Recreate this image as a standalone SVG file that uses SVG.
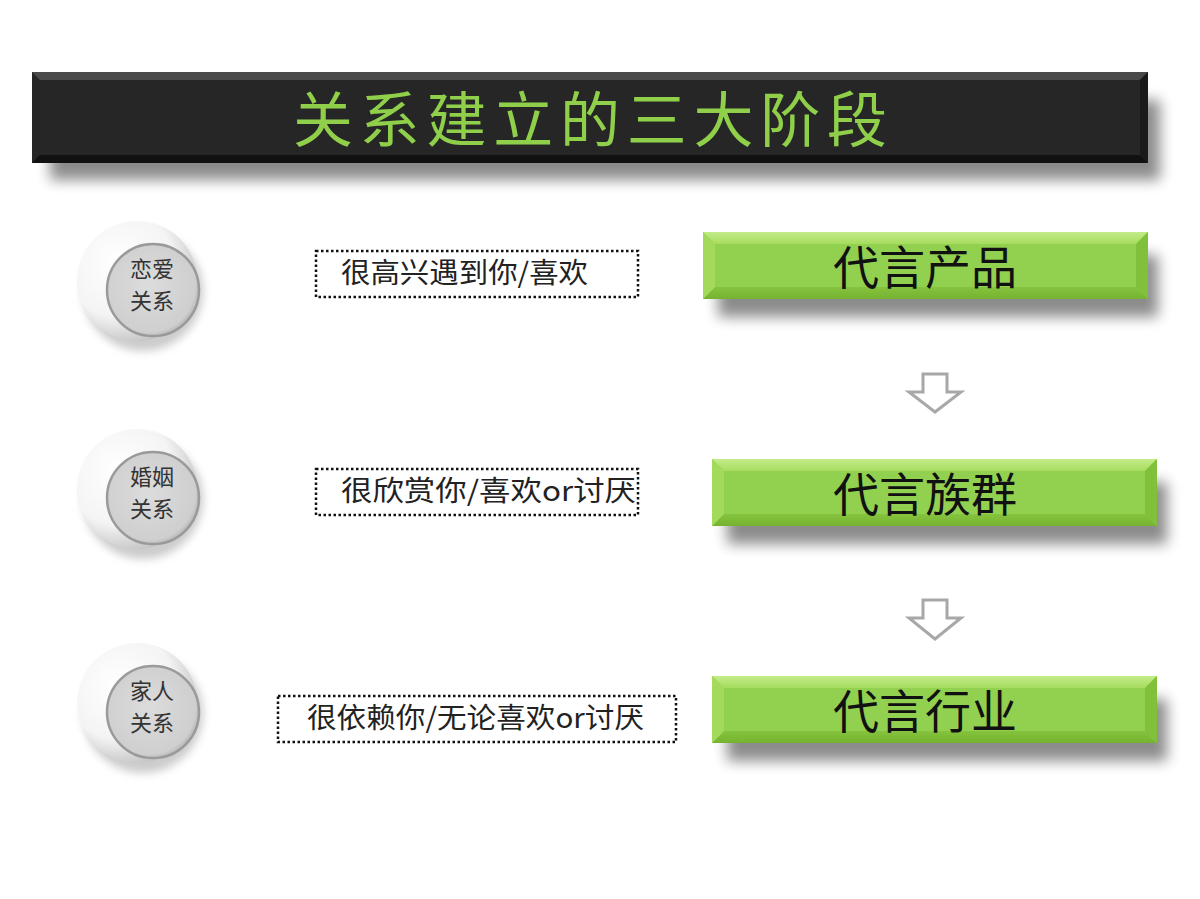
<svg xmlns="http://www.w3.org/2000/svg" width="1200" height="899" viewBox="0 0 1200 899">
<defs>
<style>
.cjk{font-family:"Noto Sans CJK SC","Liberation Sans",sans-serif;}
.title{font-size:60px;fill:#8fcf4a;}
.gtxt{font-size:46px;fill:#111;text-anchor:middle;}
.dtxt{font-size:28px;fill:#222;}
.ctxt{font-size:22px;fill:#333;text-anchor:middle;}
.dot{fill:#fff;stroke:#111;stroke-width:2.5;stroke-dasharray:2.5 2.5;}
.arrow{fill:#fff;stroke:#a8a8a8;stroke-width:3;stroke-linejoin:miter;}
</style>
<filter id="sh" x="-10%" y="-40%" width="120%" height="200%">
<feGaussianBlur stdDeviation="7"/>
</filter>
<filter id="csh" x="-30%" y="-30%" width="160%" height="160%">
<feGaussianBlur stdDeviation="4"/>
</filter>
<linearGradient id="gtop" x1="0" y1="0" x2="0" y2="1">
<stop offset="0" stop-color="#c4ec8a"/><stop offset="1" stop-color="#a6dc5e"/>
</linearGradient>
<linearGradient id="gbot" x1="0" y1="0" x2="0" y2="1">
<stop offset="0" stop-color="#86c43e"/><stop offset="1" stop-color="#74b230"/>
</linearGradient>
<radialGradient id="outer" cx="0.35" cy="0.35" r="0.75">
<stop offset="0" stop-color="#ffffff"/><stop offset="0.6" stop-color="#f4f4f4"/><stop offset="1" stop-color="#b8b8b8"/>
</radialGradient>
<radialGradient id="inner" cx="0.45" cy="0.45" r="0.6">
<stop offset="0" stop-color="#dcdcdc"/><stop offset="0.85" stop-color="#cfcfcf"/><stop offset="1" stop-color="#a8a8a8"/>
</radialGradient>
<g id="disc">
<circle cx="6" cy="10" r="60" fill="#999" opacity="0.5" filter="url(#csh)"/>
<circle cx="0" cy="0" r="60" fill="url(#outer)"/>
<circle cx="16" cy="9" r="46" fill="url(#inner)" stroke="#9a9a9a" stroke-width="2.5"/>
</g>
</defs>
<rect width="1200" height="899" fill="#fff"/>

<g id="title">
<rect x="50" y="100" width="1110" height="80" fill="#000" opacity="0.45" filter="url(#sh)"/>
<rect x="32" y="72" width="1116" height="91" fill="#262626"/>
<polygon points="32,72 1148,72 1140,80 40,80" fill="#4a4a4a"/>
<polygon points="32,163 1148,163 1140,155 40,155" fill="#111"/>
<polygon points="1148,72 1148,163 1140,155 1140,80" fill="#1a1a1a"/>
<text class="cjk title" x="590" y="142" text-anchor="middle" textLength="594" lengthAdjust="spacing">关系建立的三大阶段</text>
</g>

<g id="stage1">
<use href="#disc" x="137" y="281"/>
<text class="cjk ctxt" x="152" y="277">恋爱<tspan x="152" dy="32">关系</tspan></text>
</g>
<g id="stage2">
<use href="#disc" x="137" y="489"/>
<text class="cjk ctxt" x="152" y="485">婚姻<tspan x="152" dy="32">关系</tspan></text>
</g>
<g id="stage3">
<use href="#disc" x="137" y="703"/>
<text class="cjk ctxt" x="152" y="699">家人<tspan x="152" dy="32">关系</tspan></text>
</g>

<g id="desc1">
<rect class="dot" x="316" y="251" width="322" height="46"/>
<text class="cjk dtxt" x="341" y="283" textLength="247" lengthAdjust="spacingAndGlyphs">很高兴遇到你/喜欢</text>
</g>
<g id="desc2">
<rect class="dot" x="316" y="469" width="322" height="46"/>
<text class="cjk dtxt" x="341" y="501" textLength="295" lengthAdjust="spacingAndGlyphs">很欣赏你/喜欢or讨厌</text>
</g>
<g id="desc3">
<rect class="dot" x="278" y="696" width="398" height="46"/>
<text class="cjk dtxt" x="307" y="728" textLength="337" lengthAdjust="spacingAndGlyphs">很依赖你/无论喜欢or讨厌</text>
</g>

<g id="box1">
<rect x="718" y="255" width="440" height="62" fill="#000" opacity="0.45" filter="url(#sh)"/>
<rect x="703" y="232" width="445" height="67" fill="#92d050"/>
<polygon points="703,232 1148,232 1136,244 715,244" fill="url(#gtop)"/>
<polygon points="703,299 1148,299 1136,287 715,287" fill="url(#gbot)"/>
<polygon points="703,232 715,244 715,287 703,299" fill="#a4da5c"/>
<polygon points="1148,232 1136,244 1136,287 1148,299" fill="#80c03a"/>
<text class="cjk gtxt" x="925" y="284">代言产品</text>
</g>
<g id="box2">
<rect x="727" y="482" width="440" height="62" fill="#000" opacity="0.45" filter="url(#sh)"/>
<rect x="712" y="459" width="445" height="67" fill="#92d050"/>
<polygon points="712,459 1157,459 1145,471 724,471" fill="url(#gtop)"/>
<polygon points="712,526 1157,526 1145,514 724,514" fill="url(#gbot)"/>
<polygon points="712,459 724,471 724,514 712,526" fill="#a4da5c"/>
<polygon points="1157,459 1145,471 1145,514 1157,526" fill="#80c03a"/>
<text class="cjk gtxt" x="925" y="511">代言族群</text>
</g>
<g id="box3">
<rect x="727" y="699" width="440" height="62" fill="#000" opacity="0.45" filter="url(#sh)"/>
<rect x="712" y="676" width="445" height="67" fill="#92d050"/>
<polygon points="712,676 1157,676 1145,688 724,688" fill="url(#gtop)"/>
<polygon points="712,743 1157,743 1145,731 724,731" fill="url(#gbot)"/>
<polygon points="712,676 724,688 724,731 712,743" fill="#a4da5c"/>
<polygon points="1157,676 1145,688 1145,731 1157,743" fill="#80c03a"/>
<text class="cjk gtxt" x="925" y="728">代言行业</text>
</g>

<g id="connectors">
<polygon class="arrow" points="923,374 947,374 947,392 961,392 935,412 909,392 923,392"/>
<polygon class="arrow" points="923,600 947,600 947,618 961,618 935,639 909,618 923,618"/>
</g>
</svg>
